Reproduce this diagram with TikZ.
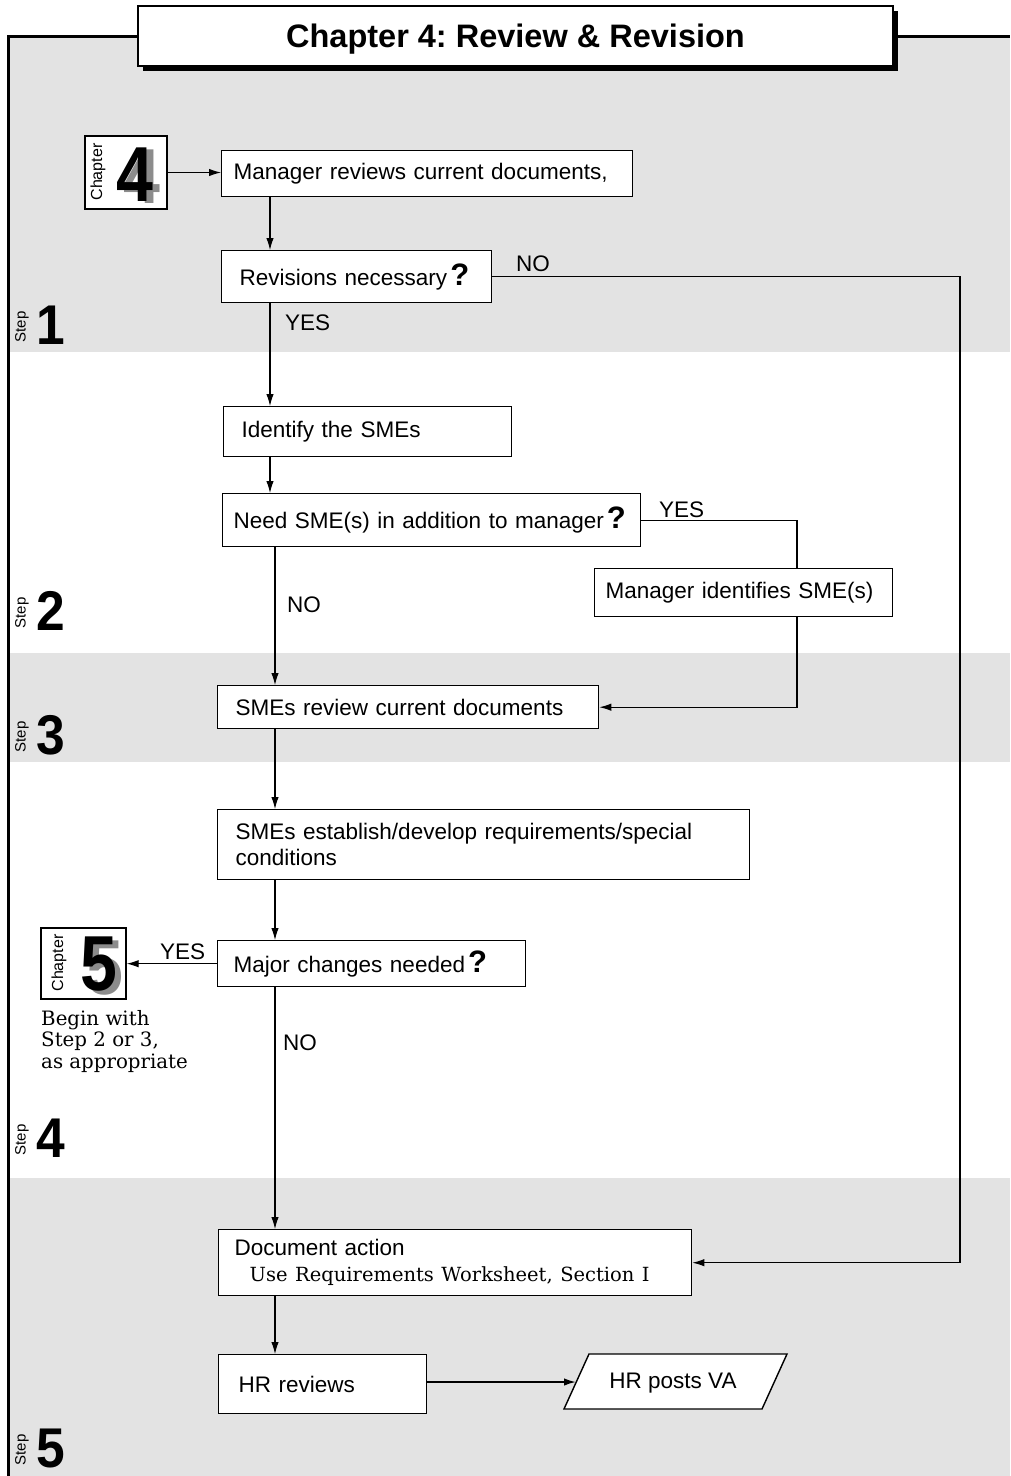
\documentclass[tikz,border=0pt]{standalone}
\usepackage{fontspec}
\setmainfont{Liberation Sans}
\newfontfamily\slabfont{DejaVu Serif}
\usetikzlibrary{arrows.meta}
\frenchspacing
\newcommand{\bodyfs}{\fontsize{22.5}{26}\selectfont}
\newcommand{\qmark}{\kern3pt{\bfseries\fontsize{31}{31}\selectfont ?}}
\newcommand{\dbldigit}[3]{\rlap{\kern#2\raisebox{-#3}{\textcolor{black!45}{#1}}}#1}
\begin{document}
\begin{tikzpicture}[x=1pt,y=-1pt,
  box/.style={draw, fill=white, line width=1.4pt, anchor=north west, align=left,
    inner ysep=0pt, font=\bodyfs},
  arr/.style={-{Latex[length=12pt,width=7.5pt]}, line width=1.1pt},
  plain/.style={line width=1.1pt},
  lbl/.style={anchor=base west, inner sep=0pt, font=\bodyfs},
  stepnum/.style={font=\bfseries\fontsize{56}{56}\selectfont, inner sep=0pt, xscale=0.92},
  steptxt/.style={font=\fontsize{15}{15}\selectfont, rotate=90, inner sep=0pt},
  chaptxt/.style={font=\fontsize{16}{16}\selectfont, rotate=90, inner sep=0pt},
  bignum/.style={font=\bfseries\fontsize{78}{78}\selectfont, inner sep=0pt, xscale=0.85},
  shade/.style={fill=black!11}
]
\useasboundingbox (0,0) rectangle (1010,1476);
\fill[white] (0,0) rectangle (1010,1476);
% shaded bands
\fill[shade] (8,36) rectangle (1010,352);
\fill[shade] (8,653) rectangle (1010,762);
\fill[shade] (8,1178) rectangle (1010,1476);
% frame
\draw[line width=3pt] (140,36) -- (8,36) -- (8,1476);
\draw[line width=3pt] (890,36) -- (1010,36);
% title
\fill[black] (143,11) rectangle (898,71);
\node[draw, fill=white, line width=1.3pt, minimum width=755pt, minimum height=60pt,
  font=\bfseries\fontsize{32.5}{34}\selectfont, text depth=6pt, text height=28pt] (title) at (515.5,36) {Chapter 4: Review \& Revision};
% step labels
\foreach \n/\yy in {1/325,2/611,3/735,4/1138,5/1448}{
  \node[stepnum] (s\n) at (51,\yy) {\n};
  \node[steptxt] (st\n) at (22,\yy+2) {Step};
}
% chapter 4 icon
\node[draw, fill=white, line width=1.4pt, minimum width=82pt, minimum height=73pt, inner sep=0pt] (ch4) at (126,172.5) {};
\node[chaptxt] (ch4t) at (98,172) {Chapter};
\node[bignum] (ch4n) at (135,176) {\dbldigit{4}{8pt}{2pt}};
% chapter 5 icon
\node[draw, fill=white, line width=1.4pt, minimum width=85pt, minimum height=71pt, inner sep=0pt] (ch5) at (83.5,963.5) {};
\node[chaptxt] (ch5t) at (59,963) {Chapter};
\node[bignum] (ch5n) at (99,966) {\dbldigit{5}{7pt}{4pt}};
\node[anchor=north west, align=left, inner sep=0pt, font=\slabfont\fontsize{19.8}{21.5}\selectfont] (begin) at (41,1010)
  {Begin with\\Step 2 or 3,\\as appropriate};
% boxes
\node[box, inner xsep=12pt, text width=387pt, minimum height=46pt] (mgr) at (221,150) {\mbox{Manager reviews current documents,}};
\node[box, inner xsep=18pt, text width=234pt, minimum height=52pt] (rev) at (221,250) {\mbox{Revisions necessary\qmark}};
\node[box, inner xsep=18pt, text width=252pt, minimum height=50pt] (ident) at (223,406) {\mbox{Identify the SMEs}};
\node[box, inner xsep=11pt, text width=396pt, minimum height=53pt] (need) at (222,493) {\mbox{Need SME(s) in addition to manager\qmark}};
\node[box, inner xsep=11pt, text width=276pt, minimum height=48pt] (mgrid) at (594,568) {\mbox{Manager identifies SME(s)}};
\node[box, inner xsep=18pt, text width=345pt, minimum height=43pt] (smes) at (217,685) {\mbox{SMEs review current documents}};
\node[box, inner xsep=18pt, text width=496pt, minimum height=70pt] (estab) at (217,809) {SMEs establish/develop requirements/special\\conditions};
\node[box, inner xsep=16pt, text width=276pt, minimum height=46pt] (major) at (217,940) {\mbox{Major changes needed\qmark}};
\node[box, inner xsep=16pt, text width=441pt, minimum height=66pt] (doc) at (218,1229) {Document action\\\hspace*{15pt}\mbox{\slabfont\fontsize{19.5}{22}\selectfont Use Requirements Worksheet, Section I}};
\node[box, inner xsep=20pt, text width=168pt, minimum height=59pt] (hrrev) at (218,1354) {\mbox{HR reviews}};
% parallelogram
\draw[line width=1.4pt, fill=white] (564,1409) -- (589,1354) -- (787,1354) -- (762,1409) -- cycle;
\node[font=\bodyfs, inner sep=0pt] (hrva) at (673,1383) {HR posts VA};
\coordinate (hrvaL) at (576,1382);
% connector columns
\coordinate (cL) at (270,0);
\coordinate (cL2) at (275,0);
\coordinate (cR) at (960,0);
\coordinate (cM) at (797,0);
% connectors
\draw[arr] (ch4.east) -- (mgr.west |- ch4.east);
\draw[arr] (mgr.south -| cL) -- (rev.north -| cL);
\draw[arr] (rev.south -| cL) -- (ident.north -| cL);
\draw[arr] (ident.south -| cL) -- (need.north -| cL);
\draw[arr] (rev.east) -- (cR |- rev.east) -- (cR |- doc.east) -- (doc.east);
\draw[plain] (need.east) -- (cM |- need.east) -- (mgrid.north -| cM);
\draw[arr] (mgrid.south -| cM) -- (cM |- smes.east) -- (smes.east);
\draw[arr] (need.south -| cL2) -- (smes.north -| cL2);
\draw[arr] (smes.south -| cL2) -- (estab.north -| cL2);
\draw[arr] (estab.south -| cL2) -- (major.north -| cL2);
\draw[arr] (major.west) -- (ch5.east |- major.west);
\draw[arr] (major.south -| cL2) -- (doc.north -| cL2);
\draw[arr] (doc.south -| cL2) -- (hrrev.north -| cL2);
\draw[arr, line width=1.8pt] (hrrev.east |- hrvaL) -- (hrvaL);
% labels
\node[lbl] (lno1) at (516,271) {NO};
\node[lbl] (lyes1) at (285,330) {YES};
\node[lbl] (lyes2) at (659,517) {YES};
\node[lbl] (lno2) at (287,612) {NO};
\node[lbl] (lyes3) at (160,959) {YES};
\node[lbl] (lno3) at (283,1050) {NO};
\end{tikzpicture}
\end{document}
